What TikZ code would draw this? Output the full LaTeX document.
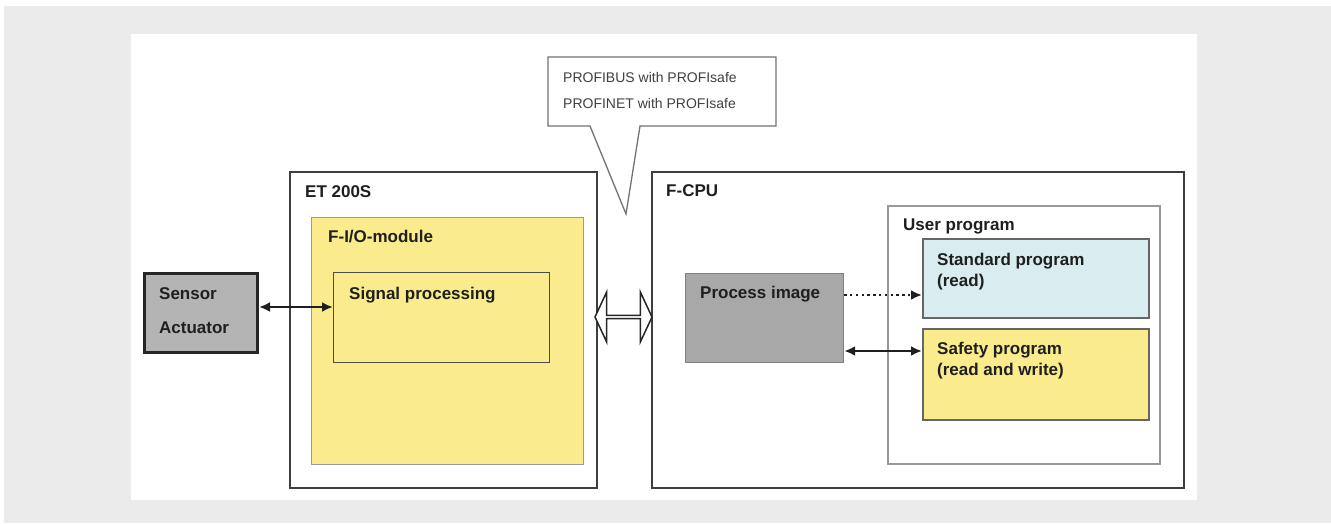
\documentclass[tikz,border=0pt]{standalone}
\usepackage{fontspec}
\setmainfont{Liberation Sans}
\usetikzlibrary{arrows.meta,shapes.arrows}
\definecolor{fyellow}{RGB}{250,236,140}
\definecolor{fblue}{RGB}{217,236,240}
\definecolor{sgray}{RGB}{180,180,180}
\definecolor{pgray}{RGB}{168,168,168}
\definecolor{bggray}{RGB}{235,235,235}
\definecolor{edge}{RGB}{62,62,62}

\begin{document}
\begin{tikzpicture}[x=1pt,y=-1pt,
  font=\fontsize{17}{21}\selectfont\bfseries,
  box/.style={rectangle,draw,anchor=north west,inner sep=0pt},
  frame/.style={box,draw=edge,line width=2.2pt,fill=white},
  inner/.style={box,line width=1.2pt},
  txt/.style={anchor=base west,inner sep=0pt,align=left,text=black!88},
  small/.style={txt,font=\fontsize{14}{17}\selectfont,text=black!75},
  arr/.style={{Latex[length=11pt,width=10pt]}-{Latex[length=11pt,width=10pt]},line width=2.4pt,black!88},
  dotarr/.style={-{Latex[length=11pt,width=10pt]},line width=2.4pt,black!88,dash pattern=on 2.4pt off 3.4pt}]
\useasboundingbox (0,0) rectangle (1331,523);
\fill[white] (0,0) rectangle (1331,523);
\fill[bggray] (4,6) rectangle (1331,523);
\fill[white] (131,34) rectangle (1197,500);
% fieldbus callout
\draw[black!55,line width=1.3pt,fill=white] (548,57) -- (776,57) -- (776,126) -- (640,126)
  -- (626,214) -- (590,126) -- (548,126) -- cycle;
\node[small] (bus1) at (563,82) {PROFIBUS with PROFIsafe};
\node[small] (bus2) at (563,108) {PROFINET with PROFIsafe};
% periphery side
\node[frame,minimum width=307,minimum height=316] (et) at (289,171) {};
\node[inner,draw=black!40,fill=fyellow,minimum width=272,minimum height=247] (fio) at (311,217) {};
\node[inner,draw=black!70,fill=fyellow,minimum width=216,minimum height=90] (sig) at (333,272) {};
\node[box,draw=black!85,fill=sgray,line width=3pt,minimum width=113,minimum height=79] (sens) at (143,272) {};
\node[txt] (etl) at (305,197) {ET 200S};
\node[txt] (fiol) at (328,242) {F-I/O-module};
\node[txt] (sigl) at (349,299) {Signal processing};
\node[txt] (sensl) at (159,333) {Sensor\\[13pt]Actuator};
% controller side
\node[frame,minimum width=532,minimum height=316] (cpu) at (651,171) {};
\node[inner,draw=black!50,fill=pgray,minimum width=158,minimum height=89] (pimg) at (685,273) {};
\node[inner,draw=black!40,fill=white,line width=1.5pt,minimum width=272,minimum height=258] (user) at (887,205) {};
\node[inner,draw=black!60,fill=fblue,line width=1.5pt,minimum width=226,minimum height=79] (std) at (922,238) {};
\node[inner,draw=black!60,fill=fyellow,line width=1.5pt,minimum width=226,minimum height=91] (safe) at (922,328) {};
\node[txt] (cpul) at (666,196) {F-CPU};
\node[txt] (pimgl) at (700,298) {Process image};
\node[txt] (userl) at (903,230) {User program};
\node[txt] (stdl) at (937,286) {Standard program\\(read)};
\node[txt] (safel) at (937,375) {Safety program\\(read and write)};
% connections
\node[double arrow,draw=black!85,line width=1.5pt,fill=white,inner sep=0pt,
  minimum height=57,minimum width=50,double arrow head extend=11.5,
  double arrow tip angle=130] (link) at (623.5,317) {};
\draw[arr] (sens.east |- 0,307) -- (sig.west |- 0,307);
\draw[dotarr] (pimg.east |- 0,295) -- (std.west |- 0,295);
\draw[arr] (pimg.east |- 0,351) -- (safe.west |- 0,351);
\end{tikzpicture}
\end{document}
